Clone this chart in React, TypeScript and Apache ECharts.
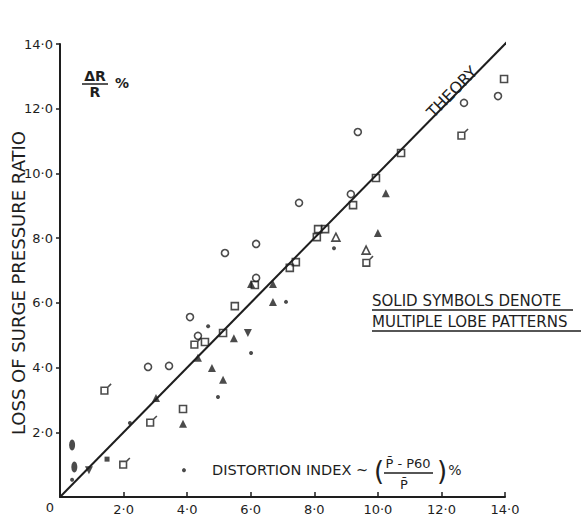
import React, { useEffect, useRef } from "react";
import * as echarts from "echarts";

// ---- data ----
const xTicks = [0, 2, 4, 6, 8, 10, 12, 14];
const theoryLine: [number, number][] = [[0, 0], [15.2, 15.2]];

const openCircles: [number, number][] = [
  [12.71, 12.18], [13.78, 12.39], [9.37, 11.28], [9.15, 9.36], [7.52, 9.09],
  [6.17, 7.82], [5.19, 7.54], [6.17, 6.77], [4.09, 5.56], [4.34, 4.98],
  [2.77, 4.02], [3.43, 4.05],
];
const openSquares: [number, number][] = [
  [13.97, 12.92], [10.73, 10.63], [9.94, 9.86], [9.22, 9.02], [8.12, 8.28],
  [8.34, 8.28], [8.08, 8.03], [7.42, 7.26], [7.23, 7.08], [6.13, 6.55],
  [5.5, 5.9], [4.56, 4.79], [5.13, 5.07], [3.87, 2.72],
];
const flaggedSquares: [number, number][] = [
  [12.68, 11.22], [9.69, 7.29], [4.28, 4.76], [2.89, 2.35], [1.45, 3.34], [2.04, 1.05],
];
const openTriangles: [number, number][] = [[9.63, 7.63], [8.68, 8.03]];
const solidTriangles: [number, number][] = [
  [10.25, 9.39], [10.0, 8.16], [6.7, 6.58], [6.7, 6.03], [5.47, 4.91], [4.34, 4.3],
  [4.78, 3.99], [5.13, 3.62], [3.87, 2.26], [3.02, 3.06], [6.01, 6.58],
];
const solidInvTriangles: [number, number][] = [[5.91, 5.07], [0.91, 0.83]];
const solidDots: [number, number][] = [
  [8.62, 7.69], [7.11, 6.03], [4.66, 5.28], [6.01, 4.45], [4.97, 3.09],
  [3.9, 0.83], [2.2, 2.29], [0.38, 0.53],
];
const solidOvals: [number, number][] = [[0.38, 1.61], [0.45, 0.93]];
const solidSquares: [number, number][] = [[1.48, 1.17]];

const INK = "#1e1e1e";
const FONT = "DejaVu Sans";
const fmt = (v: number) => v.toFixed(1).replace(".", "·");

export default function App() {
  const ref = useRef<HTMLDivElement>(null);
  useEffect(() => {
    if (!ref.current) return;
    const chart = echarts.init(ref.current, undefined, { renderer: "svg" });
    const openStyle = { color: "transparent", borderColor: INK, borderWidth: 1.6 };
    const solidStyle = { color: INK };
    chart.setOption({
      animation: false,
      backgroundColor: "#ffffff",
      grid: { left: 60, right: 76, top: 44, bottom: 21, containLabel: false },
      xAxis: {
        type: "value",
        min: 0,
        max: 14,
        interval: 2,
        axisLine: { lineStyle: { color: INK, width: 2 } },
        axisTick: { inside: true, length: 5, lineStyle: { color: INK, width: 1.5 } },
        axisLabel: {
          showMinLabel: false,
          margin: 6,
          color: INK,
          fontSize: 13,
          fontFamily: FONT,
          formatter: (v: number) => fmt(v),
        },
        splitLine: { show: false },
      },
      yAxis: {
        type: "value",
        min: 0,
        max: 14,
        interval: 2,
        axisLine: { lineStyle: { color: INK, width: 2 } },
        axisTick: { inside: false, length: 4, lineStyle: { color: INK, width: 1.5 } },
        axisLabel: {
          showMinLabel: false,
          margin: 7,
          color: INK,
          fontSize: 13,
          fontFamily: FONT,
          formatter: (v: number) => fmt(v),
        },
        splitLine: { show: false },
      },
      series: [
        {
          type: "line",
          data: theoryLine,
          clip: false,
          showSymbol: false,
          symbol: "none",
          lineStyle: { color: INK, width: 2 },
          z: 1,
        },
        { type: "scatter", data: openCircles, symbol: "circle", symbolSize: 7, itemStyle: openStyle },
        { type: "scatter", data: openSquares, symbol: "rect", symbolSize: 7, itemStyle: openStyle },
        {
          type: "scatter",
          data: flaggedSquares,
          symbol: "path://M0,3 L6,3 L6,9 L0,9 Z M6,3 L9,0",
          symbolSize: 10,
          itemStyle: openStyle,
        },
        { type: "scatter", data: openTriangles, symbol: "triangle", symbolSize: 8, itemStyle: openStyle },
        { type: "scatter", data: solidTriangles, symbol: "triangle", symbolSize: 8, itemStyle: solidStyle },
        {
          type: "scatter",
          data: solidInvTriangles,
          symbol: "triangle",
          symbolRotate: 180,
          symbolSize: 8,
          itemStyle: solidStyle,
        },
        { type: "scatter", data: solidDots, symbol: "circle", symbolSize: 4, itemStyle: solidStyle },
        { type: "scatter", data: solidOvals, symbol: "circle", symbolSize: [6, 11], itemStyle: solidStyle },
        { type: "scatter", data: solidSquares, symbol: "rect", symbolSize: 5, itemStyle: solidStyle },
      ],
      graphic: [
        { type: "text", x: 50, y: 507, style: { text: "0", fontSize: 13, fontFamily: FONT, fill: INK, align: "center", verticalAlign: "middle" } },
        {
          type: "text",
          x: 18,
          y: 283,
          rotation: Math.PI / 2,
          style: { text: "LOSS OF SURGE PRESSURE RATIO", fontSize: 18, fontFamily: FONT, fill: INK, align: "center", verticalAlign: "middle" },
        },
        { type: "text", x: 95, y: 76, style: { text: "ΔR", fontSize: 14, fontFamily: FONT, fontWeight: "bold", fill: INK, align: "center", verticalAlign: "middle" } },
        { type: "line", shape: { x1: 82, y1: 84, x2: 108, y2: 84 }, style: { stroke: INK, lineWidth: 1.5 } },
        { type: "text", x: 95, y: 92, style: { text: "R", fontSize: 14, fontFamily: FONT, fontWeight: "bold", fill: INK, align: "center", verticalAlign: "middle" } },
        { type: "text", x: 122, y: 83, style: { text: "%", fontSize: 14, fontFamily: FONT, fontWeight: "bold", fill: INK, align: "center", verticalAlign: "middle" } },
        {
          type: "text",
          x: 452,
          y: 92,
          rotation: 0.794,
          style: { text: "THEORY", fontSize: 16, fontFamily: FONT, fill: INK, align: "center", verticalAlign: "middle" },
        },
        { type: "text", x: 372, y: 301, style: { text: "SOLID SYMBOLS DENOTE", fontSize: 15, fontFamily: FONT, fill: INK, align: "left", verticalAlign: "middle" } },
        { type: "line", shape: { x1: 372, y1: 310, x2: 573, y2: 310 }, style: { stroke: INK, lineWidth: 1.5 } },
        { type: "text", x: 372, y: 322, style: { text: "MULTIPLE LOBE PATTERNS", fontSize: 15, fontFamily: FONT, fill: INK, align: "left", verticalAlign: "middle" } },
        { type: "line", shape: { x1: 372, y1: 331, x2: 581, y2: 331 }, style: { stroke: INK, lineWidth: 1.5 } },
        { type: "text", x: 212, y: 470, style: { text: "DISTORTION INDEX ~", fontSize: 14.5, fontFamily: FONT, fill: INK, align: "left", verticalAlign: "middle" } },
        { type: "text", x: 379, y: 471, style: { text: "(", fontSize: 26, fontFamily: FONT, fill: INK, align: "center", verticalAlign: "middle" } },
        { type: "text", x: 408, y: 463, style: { text: "P\u0304 - P60", fontSize: 13, fontFamily: FONT, fill: INK, align: "center", verticalAlign: "middle" } },
        { type: "line", shape: { x1: 384, y1: 473, x2: 433, y2: 473 }, style: { stroke: INK, lineWidth: 1.5 } },
        { type: "text", x: 404, y: 484, style: { text: "P\u0304", fontSize: 13, fontFamily: FONT, fill: INK, align: "center", verticalAlign: "middle" } },
        { type: "text", x: 442, y: 471, style: { text: ")", fontSize: 26, fontFamily: FONT, fill: INK, align: "center", verticalAlign: "middle" } },
        { type: "text", x: 455, y: 470, style: { text: "%", fontSize: 14, fontFamily: FONT, fill: INK, align: "center", verticalAlign: "middle" } },
      ],
    });
    return () => chart.dispose();
  }, []);
  return (
    <div
      ref={ref}
      style={{ position: "fixed", left: 0, top: 0, width: 581, height: 518, background: "#fff" }}
    />
  );
}
